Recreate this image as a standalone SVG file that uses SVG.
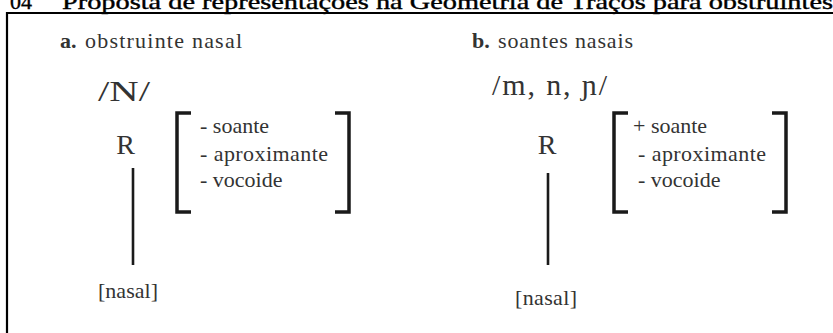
<svg xmlns="http://www.w3.org/2000/svg" width="833" height="333" viewBox="0 0 833 333">
<style>
.t{font-family:"Liberation Serif","Times New Roman",serif;fill:#333;}
.f{font-size:22px;}
.big{font-size:30px;}
.r{font-size:28px;}
.title{font-family:"Liberation Serif","Times New Roman",serif;font-size:22px;fill:#000;stroke:#000;stroke-width:0.4;}
.br{fill:none;stroke:#1a1a1a;stroke-width:3.5;}
.ln{stroke:#1a1a1a;stroke-width:2.6;}
.frame{stroke:#000;stroke-width:2.2;fill:none;}
</style>
<rect width="833" height="333" fill="#fff"/>
<g id="title">
<text class="title" x="10" y="9">04</text>
<text class="title" x="62" y="9" textLength="771" lengthAdjust="spacingAndGlyphs">Proposta de representações na Geometria de Traços para obstruintes</text>
</g>
<path class="frame" d="M7 333 V13 H833"/>
<g id="connectors">
<line class="ln" x1="133" y1="168" x2="133" y2="265"/>
<line class="ln" x1="548" y1="173" x2="548" y2="265"/>
</g>
<g id="a-heading">
<text class="t f" x="60" y="48" font-weight="bold" fill="#222">a.</text>
<text class="t f" x="85" y="48" textLength="157">obstruinte nasal</text>
</g>
<g id="a-phoneme">
<text class="t big" x="98" y="101" textLength="52" lengthAdjust="spacingAndGlyphs">/N/</text>
</g>
<g id="a-root">
<text class="t r" x="125.5" y="154" text-anchor="middle">R</text>
</g>
<g id="a-features">
<path class="br" d="M191 113 H177 V212 H191"/>
<path class="br" d="M335 113 H349 V212 H335"/>
<text class="t f" x="200" y="133">- soante</text>
<text class="t f" x="200" y="161" textLength="128">- aproximante</text>
<text class="t f" x="200" y="187">- vocoide</text>
</g>
<g id="a-nasal">
<text class="t f" x="98" y="298" textLength="60">[nasal]</text>
</g>
<g id="b-heading">
<text class="t f" x="472" y="48" font-weight="bold" fill="#222">b.</text>
<text class="t f" x="498" y="48" textLength="135">soantes nasais</text>
</g>
<g id="b-phoneme">
<text class="t big" x="492" y="95" textLength="115" lengthAdjust="spacing">/m, n, ɲ/</text>
</g>
<g id="b-root">
<text class="t r" x="547" y="154" text-anchor="middle">R</text>
</g>
<g id="b-features">
<path class="br" d="M628 113 H614 V212 H628"/>
<path class="br" d="M772 113 H786 V212 H772"/>
<text class="t f" x="633" y="133">+ soante</text>
<text class="t f" x="638" y="161" textLength="128">- aproximante</text>
<text class="t f" x="638" y="187">- vocoide</text>
</g>
<g id="b-nasal">
<text class="t f" x="515" y="305" textLength="62">[nasal]</text>
</g>
</svg>
